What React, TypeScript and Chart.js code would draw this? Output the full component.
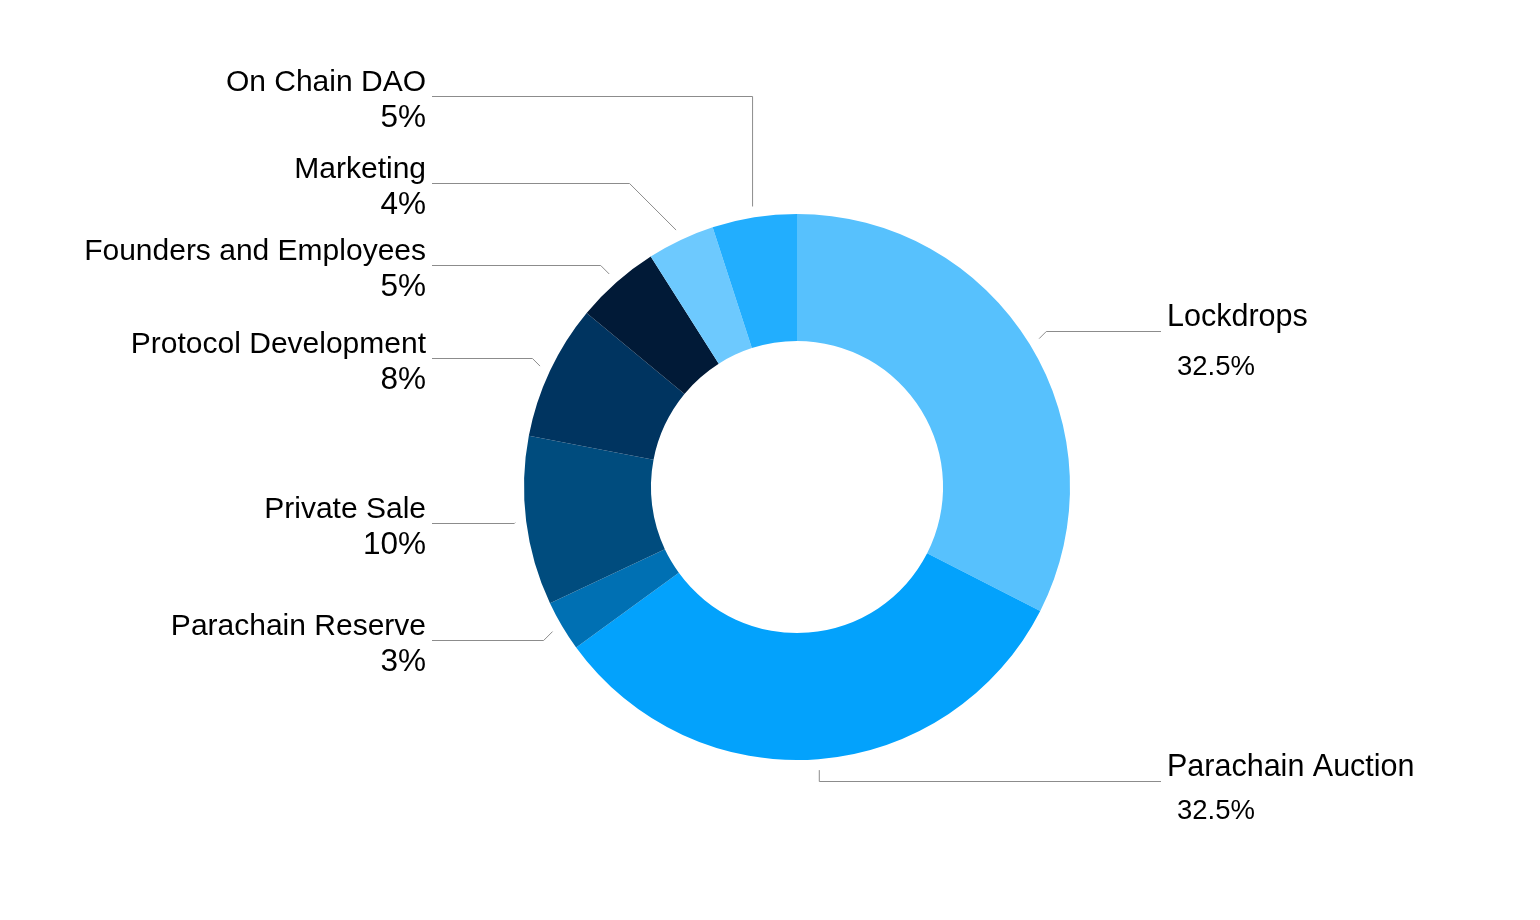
import React, { useEffect, useRef } from "react";
import { Chart, registerables } from "chart.js";

Chart.register(...registerables);

// ---- data ----
const categories = [
  "Lockdrops",
  "Parachain Auction",
  "Parachain Reserve",
  "Private Sale",
  "Protocol Development",
  "Founders and Employees",
  "Marketing",
  "On Chain DAO",
];
const shares = [32.5, 32.5, 3, 10, 8, 5, 4, 5];
const pctLabels = ["32.5%", "32.5%", "3%", "10%", "8%", "5%", "4%", "5%"];

// ---- styles / layout ----
const sliceColors = [
  "#57C1FD",
  "#03A2FC",
  "#0070B3",
  "#004C7E",
  "#003460",
  "#011A37",
  "#6DC9FE",
  "#22AEFE",
];
const labelSide = ["right", "right", "left", "left", "left", "left", "left", "left"];
const nameBaseline = [326, 776, 635, 518, 353, 260, 178, 91];
const pctBaseline = [375, 819, 671, 554, 389, 296, 214, 127];
const leaderMode = ["diag", "vert", "diag", "diag", "diag", "diag", "diag", "vert"];

const LEFT_TEXT_X = 426;
const LEFT_LINE_X = 432;
const RIGHT_TEXT_X = 1167;
const RIGHT_PCT_X = 1177;
const RIGHT_LINE_X = 1161;
const FONT = '"Liberation Sans", Arial, Helvetica, sans-serif';

const labelPlugin = {
  id: "sideLabels",
  afterDraw(chart: any) {
    const ctx = chart.ctx;
    const meta = chart.getDatasetMeta(0);
    ctx.save();
    meta.data.forEach((arc: any, i: number) => {
      const p = arc.getProps(["x", "y", "startAngle", "endAngle", "outerRadius"], true);
      const mid = (p.startAngle + p.endAngle) / 2;
      const r = p.outerRadius + 11;
      const ax = p.x + Math.cos(mid) * r;
      const ay = p.y + Math.sin(mid) * r;
      const left = labelSide[i] === "left";
      const lineY = nameBaseline[i] + 5.5;
      let kx = ax;
      if (leaderMode[i] === "diag") {
        const dy = Math.abs(lineY - ay);
        kx = left ? ax - dy : ax + dy;
      }
      const endX = left ? LEFT_LINE_X : RIGHT_LINE_X;
      ctx.beginPath();
      ctx.strokeStyle = "#8c8c8c";
      ctx.lineWidth = 1;
      ctx.moveTo(ax, ay);
      ctx.lineTo(kx, lineY);
      ctx.lineTo(endX, lineY);
      ctx.stroke();

      ctx.fillStyle = "#000000";
      ctx.textBaseline = "alphabetic";
      if (left) {
        ctx.textAlign = "right";
        ctx.font = `30px ${FONT}`;
        ctx.fillText(categories[i], LEFT_TEXT_X, nameBaseline[i]);
        ctx.font = `31.5px ${FONT}`;
        ctx.fillText(pctLabels[i], LEFT_TEXT_X, pctBaseline[i]);
      } else {
        ctx.textAlign = "left";
        ctx.font = `30.5px ${FONT}`;
        ctx.fillText(categories[i], RIGHT_TEXT_X, nameBaseline[i]);
        ctx.font = `27.5px ${FONT}`;
        ctx.fillText(pctLabels[i], RIGHT_PCT_X, pctBaseline[i]);
      }
    });
    ctx.restore();
  },
};

export default function App() {
  const canvasRef = useRef<HTMLCanvasElement | null>(null);

  useEffect(() => {
    document.body.style.margin = "0";
    const canvas = canvasRef.current;
    if (!canvas) return;
    const chart = new Chart(canvas, {
      type: "doughnut",
      data: {
        labels: categories,
        datasets: [
          {
            data: shares,
            backgroundColor: sliceColors,
            borderWidth: 0,
          },
        ],
      },
      options: {
        responsive: false,
        animation: false,
        cutout: "53.5%",
        layout: { padding: { top: 214, bottom: 160, left: 524, right: 470 } },
        plugins: {
          legend: { display: false },
          tooltip: { enabled: false },
        },
      },
      plugins: [labelPlugin],
    });
    return () => chart.destroy();
  }, []);

  return (
    <div style={{ width: 1540, height: 920, background: "#ffffff" }}>
      <canvas ref={canvasRef} width={1540} height={920} style={{ display: "block" }} />
    </div>
  );
}
